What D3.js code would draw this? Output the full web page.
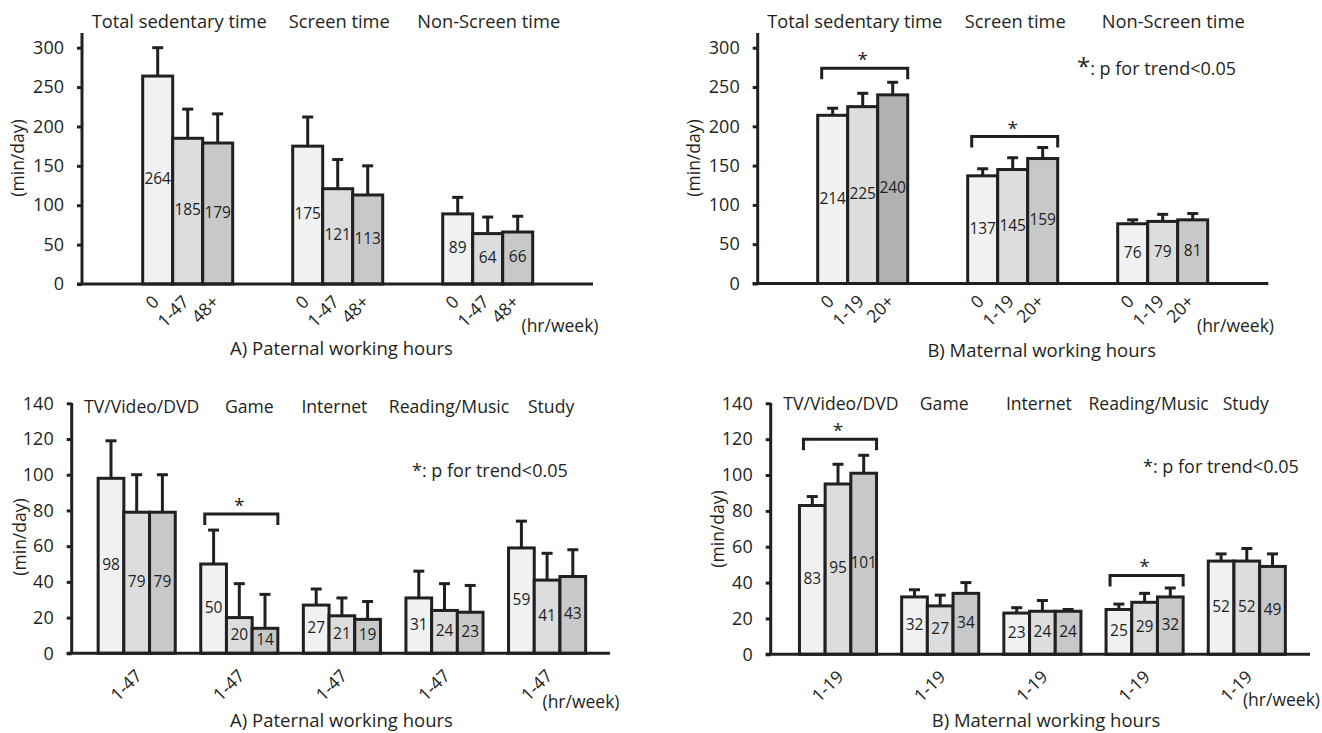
<!DOCTYPE html>
<html>
<head>
<meta charset="utf-8">
<script src="https://cdn.jsdelivr.net/npm/d3@7"></script>
<style>
  body { margin: 0; background: #fff; }
  svg text { font-family: "Open Sans", sans-serif; fill: #231f20; }
</style>
</head>
<body>
<svg id="chart" width="1322" height="733"></svg>
<script>
// ---- data (min/day) ----
const sedentaryCategories = ["Total sedentary time", "Screen time", "Non-Screen time"];
const activityCategories = ["TV/Video/DVD", "Game", "Internet", "Reading/Music", "Study"];
const paternalLevels = ["0", "1-47", "48+"];
const maternalLevels = ["0", "1-19", "20+"];

const paternalSedentaryMean = [[264, 185, 179], [175, 121, 113], [89, 64, 66]];
const paternalSedentaryUpper = [[300, 222, 216], [212, 158, 150], [110, 85, 86]];
const maternalSedentaryMean = [[214, 225, 240], [137, 145, 159], [76, 79, 81]];
const maternalSedentaryUpper = [[223, 242, 256], [146, 160, 173], [81, 88, 89]];

const paternalActivityMean = [[98, 79, 79], [50, 20, 14], [27, 21, 19], [31, 24, 23], [59, 41, 43]];
const paternalActivityUpper = [[119, 100, 100], [69, 39, 33], [36, 31, 29], [46, 39, 38], [74, 56, 58]];
const maternalActivityMean = [[83, 95, 101], [32, 27, 34], [23, 24, 24], [25, 29, 32], [52, 52, 49]];
const maternalActivityUpper = [[88, 106, 111], [36, 33, 40], [26, 30, 25], [28, 34, 37], [56, 59, 56]];

// significant trends: group index + bracket level (min/day)
const maternalSedentarySig = [{ group: 0, level: 274 }, { group: 1, level: 187 }];
const paternalActivitySig = [{ group: 1, level: 78 }];
const maternalActivitySig = [{ group: 0, level: 120 }, { group: 3, level: 44 }];

const ink = "#231f20";
const fills = ["#f0f1f3", "#dcdddf", "#c7c8ca"];
const darkFill = "#b0b1b3";

const svg = d3.select("#chart");

// layout of the four panels (positions in px)
const panels = [
  {
    cats: sedentaryCategories, levels: paternalLevels,
    mean: paternalSedentaryMean, upper: paternalSedentaryUpper, sig: [],
    axisX: 82, y0: 284, yTopPx: 47.7, yMax: 300, yStep: 50, axisTop: 33, xEnd: 593,
    firstCenter: 187.7, step: 150, barW: 30, allLabels: true, lab: [2.5, 19],
    titleY: 27.5, titleSize: 18.3, titleDx: [-8.5, 1.5, 1],
    yLabel: [19.5, 158], unit: [560, 332, "middle"], caption: [341.5, 355, "A) Paternal working hours"],
    note: null
  },
  {
    cats: sedentaryCategories, levels: maternalLevels,
    mean: maternalSedentaryMean, upper: maternalSedentaryUpper, sig: maternalSedentarySig,
    axisX: 757.7, y0: 283.5, yTopPx: 47.7, yMax: 300, yStep: 50, axisTop: 33, xEnd: 1268.3,
    firstCenter: 862.7, step: 150, barW: 30, allLabels: true, lab: [2.5, 19],
    titleY: 27.5, titleSize: 18.3, titleDx: [-8, 2.5, 10.5],
    yLabel: [695, 158], unit: [1235.5, 332, "middle"], caption: [1041.7, 357, "B) Maternal working hours"],
    note: [1077, 74.5, true], darkLast: true
  },
  {
    cats: activityCategories, levels: paternalLevels,
    mean: paternalActivityMean, upper: paternalActivityUpper, sig: paternalActivitySig,
    axisX: 71.7, y0: 653.3, yTopPx: 403.3, yMax: 140, yStep: 20, axisTop: 403, xEnd: 610,
    firstCenter: 136.7, step: 102.6, barW: 25.7, allLabels: false, lab: [6.5, 23.5],
    titleY: 412.5, titleSize: 17.6, titleDx: [5, 10, -7.5, 4.5, 4],
    yLabel: [21, 537], unit: [581, 708, "middle"], caption: [341.5, 727, "A) Paternal working hours"],
    note: [412, 476.5, false]
  },
  {
    cats: activityCategories, levels: maternalLevels,
    mean: maternalActivityMean, upper: maternalActivityUpper, sig: maternalActivitySig,
    axisX: 770.7, y0: 654.3, yTopPx: 403.3, yMax: 140, yStep: 20, axisTop: 403, xEnd: 1310,
    firstCenter: 838, step: 102.2, barW: 25.7, allLabels: false, lab: [6.5, 23.5],
    titleY: 409.5, titleSize: 17.6, titleDx: [3, 4, -3.5, 4, -1],
    yLabel: [719, 529], unit: [1320, 706, "end"], caption: [1046, 727, "B) Maternal working hours"],
    note: [1143, 473, false]
  }
];

function drawPanel(p) {
  const g = svg.append("g");

  const y = d3.scaleLinear().domain([0, p.yMax]).range([p.y0, p.yTopPx]);
  const x = d3.scaleBand()
    .domain(p.cats)
    .range([p.firstCenter - p.step / 2, p.firstCenter - p.step / 2 + p.step * p.cats.length]);
  const xi = d3.scaleBand().domain(p.levels).range([-1.5 * p.barW, 1.5 * p.barW]);
  const cx = c => x(c) + x.bandwidth() / 2;

  // y axis
  const yAxis = d3.axisLeft(y)
    .tickValues(d3.range(0, p.yMax + 1, p.yStep))
    .tickSize(5)
    .tickSizeOuter(0)
    .tickPadding(13);
  const ya = g.append("g").attr("transform", `translate(${p.axisX},0)`).call(yAxis);
  ya.select(".domain").remove();
  ya.selectAll(".tick line").attr("stroke", ink).attr("stroke-width", 3);
  ya.selectAll(".tick text").attr("font-size", 18).attr("fill", ink)
    .style("font-family", '"Open Sans", sans-serif');
  g.append("line")
    .attr("x1", p.axisX).attr("x2", p.axisX)
    .attr("y1", p.y0).attr("y2", p.axisTop)
    .attr("stroke", ink).attr("stroke-width", 3);

  // bars
  p.cats.forEach((c, gi) => {
    p.levels.forEach((lv, li) => {
      const v = p.mean[gi][li];
      const bx = cx(c) + xi(lv);
      const bc = bx + p.barW / 2;
      const fill = (p.darkLast && gi === 0 && li === 2) ? darkFill : fills[li];
      // error bar
      g.append("line")
        .attr("x1", bc).attr("x2", bc)
        .attr("y1", y(v)).attr("y2", y(p.upper[gi][li]))
        .attr("stroke", ink).attr("stroke-width", 3);
      g.append("line")
        .attr("x1", bc - 5.5).attr("x2", bc + 5.5)
        .attr("y1", y(p.upper[gi][li])).attr("y2", y(p.upper[gi][li]))
        .attr("stroke", ink).attr("stroke-width", 3);
      g.append("rect")
        .attr("x", bx).attr("y", y(v))
        .attr("width", p.barW).attr("height", p.y0 - y(v))
        .attr("fill", fill).attr("stroke", ink).attr("stroke-width", 3);
      g.append("text")
        .attr("x", bc).attr("y", y(v / 2))
        .attr("text-anchor", "middle").attr("dominant-baseline", "middle")
        .attr("font-size", 15.5)
        .text(v);
      if (p.allLabels || li === 1) {
        g.append("text")
          .attr("text-anchor", "end")
          .attr("font-size", 17.5)
          .attr("transform", `translate(${bc + p.lab[0]},${p.y0 + p.lab[1]}) rotate(-45)`)
          .text(lv);
      }
    });
    g.append("text")
      .attr("x", cx(c) + p.titleDx[gi]).attr("y", p.titleY)
      .attr("text-anchor", "middle").attr("font-size", p.titleSize)
      .text(c);
  });

  // x axis line
  g.append("line")
    .attr("x1", p.axisX - 5).attr("x2", p.xEnd)
    .attr("y1", p.y0).attr("y2", p.y0)
    .attr("stroke", ink).attr("stroke-width", 3);

  // trend brackets
  p.sig.forEach(s => {
    const c = p.cats[s.group];
    const x1 = cx(c) - 1.5 * p.barW + 4, x2 = cx(c) + 1.5 * p.barW;
    const by = y(s.level);
    g.append("path")
      .attr("d", `M${x1},${by + 11}V${by}H${x2}V${by + 11}`)
      .attr("fill", "none").attr("stroke", ink).attr("stroke-width", 3);
    g.append("text")
      .attr("x", cx(c)).attr("y", by - 2)
      .attr("text-anchor", "middle").attr("font-size", 19)
      .text("*");
  });

  // axis titles
  g.append("text")
    .attr("transform", `translate(${p.yLabel[0]},${p.yLabel[1]}) rotate(-90)`)
    .attr("text-anchor", "middle").attr("dominant-baseline", "middle")
    .attr("font-size", 17.5)
    .text("(min/day)");
  g.append("text")
    .attr("x", p.unit[0]).attr("y", p.unit[1])
    .attr("text-anchor", p.unit[2])
    .attr("font-size", 17.5)
    .text("(hr/week)");
  g.append("text")
    .attr("x", p.caption[0]).attr("y", p.caption[1])
    .attr("text-anchor", "middle").attr("font-size", 18.5)
    .text(p.caption[2]);

  if (p.note) {
    const t = g.append("text")
      .attr("x", p.note[0]).attr("y", p.note[1])
      .attr("font-size", 18);
    t.append("tspan").attr("font-size", p.note[2] ? 24 : 18).text("*");
    t.append("tspan").text(": p for trend<0.05");
  }
}

panels.forEach(drawPanel);
</script>
</body>
</html>
